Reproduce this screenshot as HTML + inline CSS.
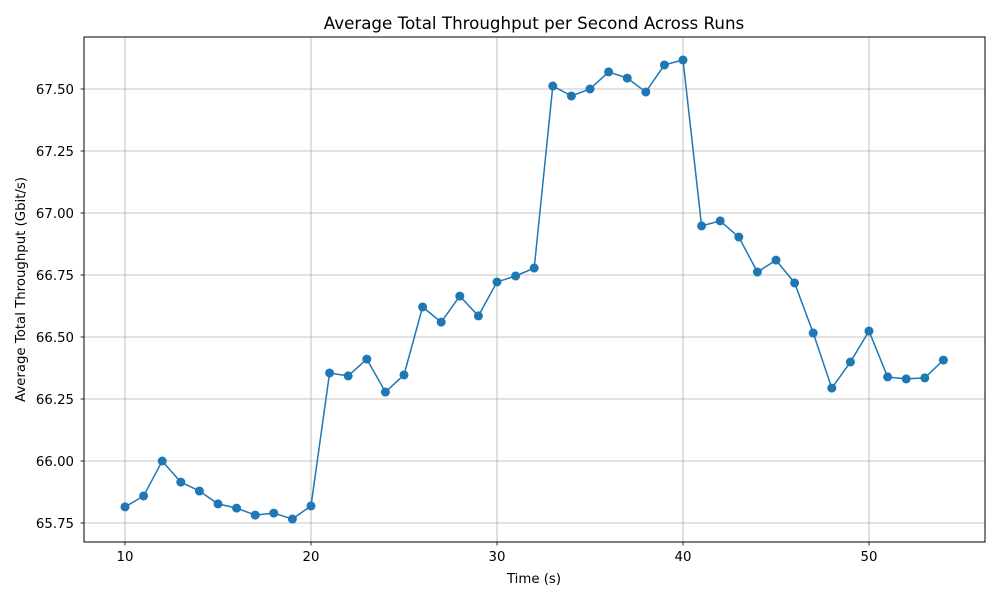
<!DOCTYPE html>
<html><head><meta charset="utf-8"><style>
html,body{margin:0;padding:0;background:#fff;}
svg{display:block;font-family:"DejaVu Sans","Liberation Sans",sans-serif;}
</style></head><body>
<svg id="chart" width="1000" height="600" viewBox="0 0 1000 600">
<rect x="0" y="0" width="1000" height="600" fill="#fff"/>
<text x="534" y="29" text-anchor="middle" font-size="16.7" fill="#000">Average Total Throughput per Second Across Runs</text>
<g id="grid"></g>
<g id="axes"></g>
<g id="series"></g>
<rect x="84" y="37" width="901" height="505" fill="none" stroke="#000" stroke-width="1"/>
<text x="534" y="583" text-anchor="middle" font-size="13.3">Time (s)</text>
<text transform="translate(25,289.5) rotate(-90)" text-anchor="middle" font-size="13.3">Average Total Throughput (Gbit/s)</text>
</svg>
<script>
const times = [10,11,12,13,14,15,16,17,18,19,20,21,22,23,24,25,26,27,28,29,30,31,32,33,34,35,36,37,38,39,40,41,42,43,44,45,46,47,48,49,50,51,52,53,54];
const throughput = [65.815,65.859,66.0,65.915,65.879,65.827,65.810,65.782,65.790,65.766,65.819,66.355,66.343,66.411,66.278,66.347,66.621,66.560,66.665,66.585,66.722,66.746,66.778,67.512,67.472,67.500,67.569,67.544,67.488,67.597,67.617,66.948,66.968,66.903,66.762,66.810,66.718,66.516,66.294,66.399,66.524,66.339,66.331,66.335,66.407];
const xTicks = [10,20,30,40,50];
const yTicks = [65.75,66.00,66.25,66.50,66.75,67.00,67.25,67.50];

const L=84,R=985,T=37,B=542;
function xs(v){return 125+(v-10)*18.6;}
function ys(v){return 523-(v-65.75)*248;}
const NS="http://www.w3.org/2000/svg";
function mk(tag,attrs,parent){const e=document.createElementNS(NS,tag);for(const k in attrs)e.setAttribute(k,attrs[k]);parent.appendChild(e);return e;}
const grid=document.getElementById('grid'),axes=document.getElementById('axes'),series=document.getElementById('series');

xTicks.forEach(t=>{
  const x=xs(t);
  const g=mk('line',{x1:x,x2:x,y1:T,y2:B,stroke:'#b0b0b0','stroke-width':0.8},grid);
  
  
  const tk=mk('line',{x1:x,x2:x,y1:B,y2:B+3.5,stroke:'#000','stroke-width':0.8},axes);
  
  
  const lb=mk('text',{x:x,y:B+19,'text-anchor':'middle','font-size':13.3},axes);
  lb.textContent=t;
  
  
});
yTicks.forEach(t=>{
  const y=ys(t);
  const g=mk('line',{x1:L,x2:R,y1:y,y2:y,stroke:'#b0b0b0','stroke-width':0.8},grid);
  
  
  const tk=mk('line',{x1:L-3.5,x2:L,y1:y,y2:y,stroke:'#000','stroke-width':0.8},axes);
  
  
  const lb=mk('text',{x:L-10,y:y+5,'text-anchor':'end','font-size':13.3},axes);
  lb.textContent=t.toFixed(2);
  
  
});
const pts=times.map((t,i)=>xs(t)+','+ys(throughput[i])).join(' ');
const line=mk('polyline',{points:pts,fill:'none',stroke:'#1f77b4','stroke-width':1.5},series);


times.forEach((t,i)=>{
  const c=mk('circle',{cx:xs(t),cy:ys(throughput[i]),r:4.5,fill:'#1f77b4'},series);
  
  
});
</script>
</body></html>
